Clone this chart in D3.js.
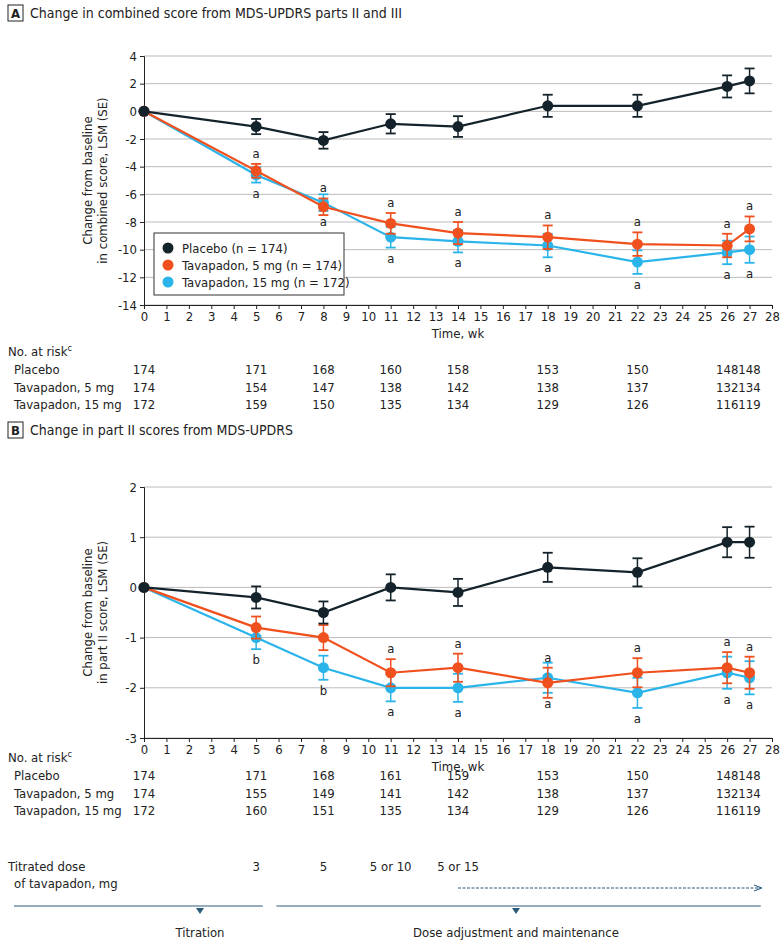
<!DOCTYPE html><html><head><meta charset="utf-8"><script src="https://cdn.jsdelivr.net/npm/d3@7"></script>
<style>body{margin:0;background:#fff}text{font-family:"Liberation Sans Narrow","DejaVu Sans Condensed","Liberation Sans",sans-serif;fill:#222}</style></head><body>
<svg id="c" width="780" height="951"></svg>
<script>
const weeks=[0,5,8,11,14,18,22,26,27];
const xTicks=d3.range(0,29);
const seriesNames=["Placebo (n = 174)","Tavapadon, 5 mg (n = 174)","Tavapadon, 15 mg (n = 172)"];
const colors=["#14232b","#f0501e","#2ab4ea"];
const A_pl=[0,-1.1,-2.1,-0.9,-1.1,0.4,0.4,1.8,2.2];
const A_pl_se=[0,0.55,0.6,0.7,0.75,0.8,0.8,0.8,0.9];
const A_5=[0,-4.3,-6.9,-8.1,-8.8,-9.1,-9.6,-9.7,-8.5];
const A_5_se=[0,0.5,0.6,0.75,0.8,0.85,0.85,0.85,0.9];
const A_15=[0,-4.6,-6.6,-9.1,-9.4,-9.7,-10.9,-10.2,-10.0];
const A_15_se=[0,0.55,0.6,0.75,0.8,0.85,0.85,0.85,0.95];
const A_lab5=["","a","a","a","a","a","a","a","a"];
const A_lab15=["","a","a","a","a","a","a","a","a"];
const B_pl=[0,-0.2,-0.5,0,-0.1,0.4,0.3,0.9,0.9];
const B_pl_se=[0,0.22,0.22,0.26,0.27,0.29,0.28,0.3,0.31];
const B_5=[0,-0.8,-1.0,-1.7,-1.6,-1.9,-1.7,-1.6,-1.7];
const B_5_se=[0,0.22,0.25,0.27,0.28,0.3,0.29,0.31,0.32];
const B_15=[0,-1.0,-1.6,-2.0,-2.0,-1.8,-2.1,-1.7,-1.8];
const B_15_se=[0,0.23,0.24,0.27,0.28,0.3,0.3,0.32,0.33];
const B_lab5=["","","","a","a","a","a","a","a"];
const B_lab15=["","b","b","a","a","a","a","a","a"];
const riskRows=["Placebo","Tavapadon, 5 mg","Tavapadon, 15 mg"];
const A_risk=[[174,171,168,160,158,153,150,148,148],[174,154,147,138,142,138,137,132,134],[172,159,150,135,134,129,126,116,119]];
const B_risk=[[174,171,168,161,159,153,150,148,148],[174,155,149,141,142,138,137,132,134],[172,160,151,135,134,129,126,116,119]];
const doseWeeks=[5,8,11,14];
const doseLabels=["3","5","5 or 10","5 or 15"];

const svg=d3.select("#c");
const x=d3.scaleLinear().domain([0,28]).range([144,772]);

function panel(letter,title,ty,yDom,yRange,yTicks,ytitle,data,se,labs,legend,risk,riskY){
  const g=svg.append("g");
  g.append("rect").attr("x",8).attr("y",ty-12).attr("width",15).attr("height",16).attr("fill","none").attr("stroke","#222");
  g.append("text").attr("x",15.5).attr("y",ty+1).attr("text-anchor","middle").attr("font-weight","bold").attr("font-size",13).text(letter);
  g.append("text").attr("x",30).attr("y",ty+1).attr("font-size",14).text(title);
  const y=d3.scaleLinear().domain(yDom).range(yRange);
  g.selectAll(".gl").data(yTicks).join("line").attr("x1",x(0)).attr("x2",x(28)).attr("y1",d=>y(d)).attr("y2",d=>y(d)).attr("stroke","#bbb");
  const ya=g.append("g").attr("transform",`translate(${x(0)},0)`).call(d3.axisLeft(y).tickValues(yTicks).tickSize(4).tickFormat(d=>d<0?"-"+Math.abs(d):d));
  const xa=g.append("g").attr("transform",`translate(0,${y(yDom[0])})`).call(d3.axisBottom(x).tickValues(xTicks).tickSize(4));
  [ya,xa].forEach(a=>{a.selectAll("text").attr("font-size",13).style("fill","#222");a.selectAll("line,path").attr("stroke","#222");});
  g.append("text").attr("x",x(14)).attr("y",y(yDom[0])+33).attr("text-anchor","middle").attr("font-size",13).text("Time, wk");
  const my=(yRange[0]+yRange[1])/2;
  g.append("text").attr("transform",`translate(92,${my}) rotate(-90)`).attr("text-anchor","middle").attr("font-size",13)
    .selectAll("tspan").data(ytitle).join("tspan").attr("x",0).attr("dy",(d,i)=>i?15:0).text(d=>d);
  const line=d3.line().x((d,i)=>x(weeks[i])).y(d=>y(d));
  [2,1,0].forEach(s=>{
    const c=colors[s];
    g.append("path").datum(data[s]).attr("d",line).attr("fill","none").attr("stroke",c).attr("stroke-width",2.2);
    weeks.forEach((w,i)=>{ if(!se[s][i])return;
      const lo=y(data[s][i]-se[s][i]),hi=y(data[s][i]+se[s][i]);
      g.append("line").attr("x1",x(w)).attr("x2",x(w)).attr("y1",lo).attr("y2",hi).attr("stroke",c).attr("stroke-width",1.5);
      [lo,hi].forEach(v=>g.append("line").attr("x1",x(w)-5).attr("x2",x(w)+5).attr("y1",v).attr("y2",v).attr("stroke",c).attr("stroke-width",1.8));
    });
    g.selectAll(null).data(data[s]).join("circle").attr("cx",(d,i)=>x(weeks[i])).attr("cy",d=>y(d)).attr("r",5.5).attr("fill",c);
  });
  weeks.forEach((w,i)=>{
    if(labs[0][i]) g.append("text").attr("x",x(w)).attr("y",y(data[1][i]+se[1][i])-6).attr("text-anchor","middle").attr("font-size",13).text(labs[0][i]);
    if(labs[1][i]) g.append("text").attr("x",x(w)).attr("y",y(data[2][i]-se[2][i])+15).attr("text-anchor","middle").attr("font-size",13).text(labs[1][i]);
  });
  if(legend){
    const lg=g.append("g").attr("transform","translate(154,233)");
    lg.append("rect").attr("width",190).attr("height",62).attr("fill","#fff").attr("stroke","#333");
    seriesNames.forEach((n,i)=>{
      lg.append("circle").attr("cx",14).attr("cy",15+i*17).attr("r",5.5).attr("fill",colors[i]);
      lg.append("text").attr("x",28).attr("y",20+i*17).attr("font-size",13).text(n);
    });
  }
  const rg=g.append("g");
  rg.append("text").attr("x",8).attr("y",riskY).attr("font-size",13).html('No. at risk<tspan font-size="9" dy="-5">c</tspan>');
  riskRows.forEach((r,j)=>{
    const yy=riskY+18+j*17.5;
    rg.append("text").attr("x",14).attr("y",yy).attr("font-size",13).text(r);
    risk[j].forEach((v,i)=>{
      const w=weeks[i];
      const anchor=w===26?"end":w===27?"start":"middle";
      const xx=w===26?x(26.5):w===27?x(26.5):x(w);
      rg.append("text").attr("x",xx).attr("y",yy).attr("text-anchor",anchor).attr("font-size",13).text(v);
    });
  });
}
panel("A","Change in combined score from MDS-UPDRS parts II and III",17,[-14,4],[305,56],d3.range(-14,5,2),
  ["Change from baseline","in combined score, LSM (SE)"],[A_pl,A_5,A_15],[A_pl_se,A_5_se,A_15_se],[A_lab5,A_lab15],true,A_risk,356);
panel("B","Change in part II scores from MDS-UPDRS",434,[-3,2],[738,487],d3.range(-3,3,1),
  ["Change from baseline","in part II score, LSM (SE)"],[B_pl,B_5,B_15],[B_pl_se,B_5_se,B_15_se],[B_lab5,B_lab15],false,B_risk,762);

const b=svg.append("g");
b.append("text").attr("x",8).attr("y",871).attr("font-size",13).text("Titrated dose");
b.append("text").attr("x",14).attr("y",888).attr("font-size",13).text("of tavapadon, mg");
doseWeeks.forEach((w,i)=>b.append("text").attr("x",x(w)).attr("y",871).attr("text-anchor","middle").attr("font-size",13).text(doseLabels[i]));
svg.append("defs").append("marker").attr("id","ar").attr("viewBox","0 0 10 10").attr("refX",9).attr("refY",5).attr("markerWidth",8).attr("markerHeight",8).attr("orient","auto")
  .append("path").attr("d","M0,1L10,5L0,9").attr("fill","none").attr("stroke","#2a5a7a").attr("stroke-width",1.3);
b.append("line").attr("x1",x(14)).attr("x2",x(27.5)).attr("y1",888).attr("y2",888).attr("stroke","#2a5a7a").attr("stroke-dasharray","3,1.5").attr("marker-end","url(#ar)");
b.append("line").attr("x1",14).attr("x2",x(5.3)).attr("y1",906).attr("y2",906).attr("stroke","#2a5a7a");
b.append("line").attr("x1",x(5.9)).attr("x2",x(27.5)).attr("y1",906).attr("y2",906).attr("stroke","#2a5a7a");
[200,516].forEach(cx=>b.append("path").attr("d",`M${cx-4},908L${cx+4},908L${cx},914Z`).attr("fill","#2a5a7a"));
b.append("text").attr("x",200).attr("y",937).attr("text-anchor","middle").attr("font-size",13).text("Titration");
b.append("text").attr("x",516).attr("y",937).attr("text-anchor","middle").attr("font-size",13).text("Dose adjustment and maintenance");
</script></body></html>
